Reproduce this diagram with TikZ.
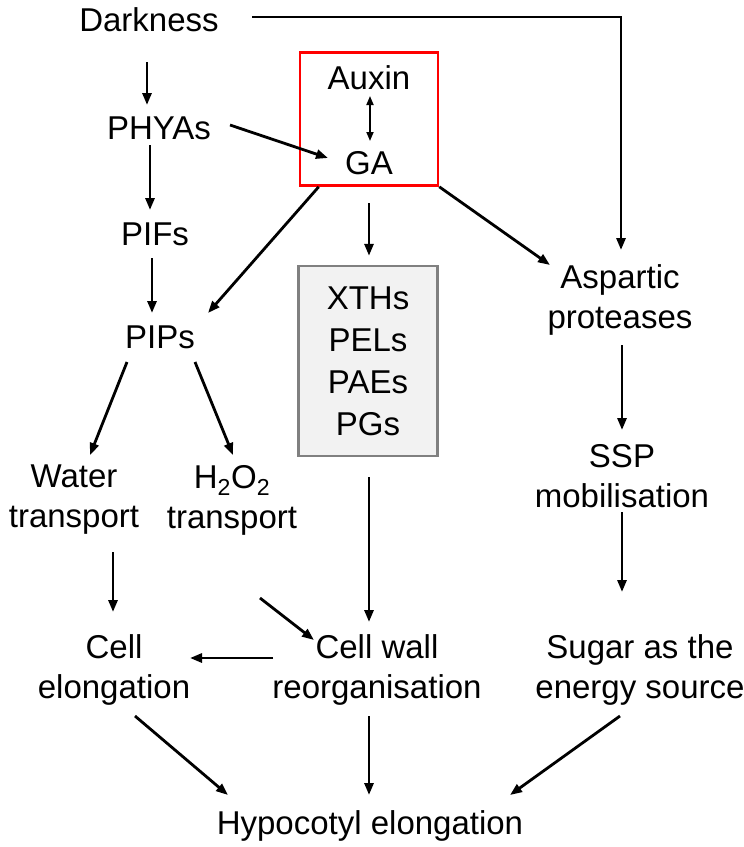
\documentclass[tikz,border=0pt]{standalone}
\usepackage{fontspec}
\setmainfont{Liberation Sans}
\usetikzlibrary{arrows.meta}
\begin{document}
\begin{tikzpicture}[x=1pt,y=-1pt,
  lbl/.style={inner sep=0pt,align=center,font=\fontsize{33}{40}\selectfont},
  arr/.style={line width=2.8pt,-{Triangle[length=12pt,width=9pt]}},
  darr/.style={line width=1.8pt,{Triangle[length=9pt,width=7pt]}-{Triangle[length=9pt,width=7pt]}}]
\useasboundingbox (0,0) rectangle (744,847);
% boxes
\node[draw=red,line width=2.6pt,minimum width=138pt,minimum height=133pt,inner sep=0pt] (rbox) at (369,119) {};
\node[draw={rgb,255:red,128;green,128;blue,128},fill={rgb,255:red,242;green,242;blue,242},line width=2.4pt,minimum width=139pt,minimum height=190pt,inner sep=0pt,align=center,font=\fontsize{33}{42}\selectfont] (gbox) at (368,361) {XTHs\\PELs\\PAEs\\PGs};
% labels
\node[lbl] (dark) at (149,20) {Darkness};
\node[lbl] (phy) at (159,128) {PHYAs};
\node[lbl] (pifs) at (155,234) {PIFs};
\node[lbl] (pips) at (160,337) {PIPs};
\node[lbl] (aux) at (369,78) {Auxin};
\node[lbl] (ga) at (369,163) {GA};
\node[lbl] (asp) at (620,300) {Aspartic\\proteases};
\node[lbl] (ssp) at (622,476) {SSP\\mobilisation};
\node[lbl] (water) at (74,500) {Water\\transport};
\node[lbl] (hoo) at (232,500) {H\textsubscript{2}O\textsubscript{2}\\transport};
\node[lbl] (cellel) at (114,670) {Cell\\elongation};
\node[lbl] (cwr) at (377,670) {Cell wall\\reorganisation};
\node[lbl] (sugar) at (640,670) {Sugar as the\\energy source};
\node[lbl] (hypo) at (370,826) {Hypocotyl elongation};
% connectors
\draw[arr] ([shift={(-2,42)}]dark.center) -- ([shift={(-12,-23)}]phy.center);
\draw[arr] ([shift={(103,-3)}]dark.center) -| ([shift={(1,-50)}]asp.center);
\draw[arr] ([shift={(71,-3)}]phy.center) -- ([shift={(-41,-5)}]ga.center);
\draw[arr] ([shift={(-9,17)}]phy.center) -- ([shift={(-5,-24)}]pifs.center);
\draw[arr] ([shift={(-3,24)}]pifs.center) -- ([shift={(-8,-24)}]pips.center);
\draw[darr] ([shift={(1,18)}]aux.center) -- ([shift={(1,-22)}]ga.center);
\draw[arr] ([shift={(20,0)}]rbox.south west) -- ([shift={(48,-24)}]pips.center);
\draw[arr] ([shift={(0,40)}]ga.center) -- ([shift={(1,-9)}]gbox.north);
\draw[arr] (rbox.south east) -- ([shift={(-70,-35)}]asp.center);
\draw[arr] ([shift={(-33,25)}]pips.center) -- ([shift={(16,-45)}]water.center);
\draw[arr] ([shift={(35,25)}]pips.center) -- ([shift={(1,-45)}]hoo.center);
\draw[arr] ([shift={(2,45)}]asp.center) -- ([shift={(0,-46)}]ssp.center);
\draw[arr] ([shift={(39,52)}]water.center) -- ([shift={(-1,-58)}]cellel.center);
\draw[arr] ([shift={(28,98)}]hoo.center) -- ([shift={(-63,-30)}]cwr.center);
\draw[arr] ([shift={(1,20)}]gbox.south) -- ([shift={(-8,-48)}]cwr.center);
\draw[arr] ([shift={(0,36)}]ssp.center) -- ([shift={(-18,-78)}]sugar.center);
\draw[arr] ([shift={(-104,-12)}]cwr.center) -- ([shift={(76,-12)}]cellel.center);
\draw[arr] ([shift={(21,46)}]cellel.center) -- ([shift={(-142,-31)}]hypo.center);
\draw[arr] ([shift={(-8,46)}]cwr.center) -- ([shift={(-1,-31)}]hypo.center);
\draw[arr] ([shift={(-20,46)}]sugar.center) -- ([shift={(140,-31)}]hypo.center);
\end{tikzpicture}
\end{document}
